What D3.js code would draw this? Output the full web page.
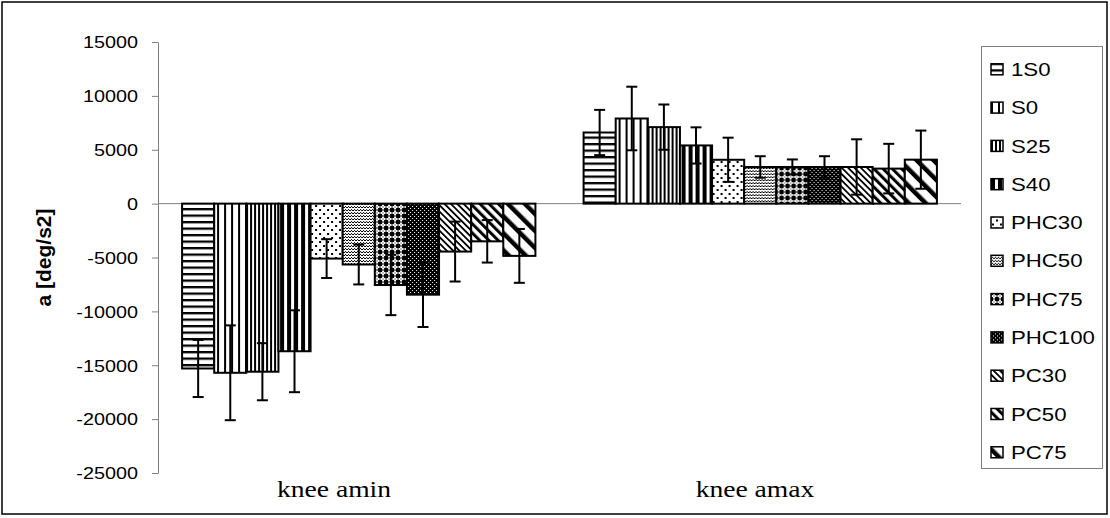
<!DOCTYPE html>
<html>
<head>
<meta charset="utf-8">
<script src="https://cdn.jsdelivr.net/npm/d3@7"></script>
<style>
  body { margin: 0; background: #fff; }
  svg { display: block; }
</style>
</head>
<body>
<div id="chart"></div>
<script>
// ---- data ----
const categories = ['knee amin', 'knee amax'];
const series = ['1S0', 'S0', 'S25', 'S40', 'PHC30', 'PHC50', 'PHC75', 'PHC100', 'PC30', 'PC50', 'PC75'];
const aminMean = [-15300, -15700, -15600, -13700, -5100, -5650, -7550, -8450, -4450, -3500, -4850];
const aminSd = [2650, 4400, 2650, 3800, 1800, 1850, 2800, 3000, 2780, 1970, 2500];
const amaxMean = [6600, 7900, 7100, 5400, 4070, 3400, 3400, 3400, 3400, 3250, 4080];
const amaxSd = [2100, 2950, 2100, 1680, 2050, 1000, 700, 1000, 2570, 2300, 2700];
const yTicks = [15000, 10000, 5000, 0, -5000, -10000, -15000, -20000, -25000];

const width = 1110;
const height = 518;
const plot = { left: 158, right: 961, top: 42, bottom: 473 };
const sx = 1.2; // reference text is stretched horizontally

const rows = categories.map((c, i) => ({
  cat: c,
  values: series.map((s, j) => ({
    cat: c,
    key: s,
    mean: i === 0 ? aminMean[j] : amaxMean[j],
    sd: i === 0 ? aminSd[j] : amaxSd[j]
  }))
}));

const svg = d3.select('#chart')
  .append('svg')
  .attr('width', width)
  .attr('height', height);

// ---- fill patterns ----
const defs = svg.append('defs');

function pattern(id, w, h, draw, transform) {
  const p = defs.append('pattern')
    .attr('id', id)
    .attr('patternUnits', 'userSpaceOnUse')
    .attr('width', w)
    .attr('height', h);
  if (transform) p.attr('patternTransform', transform);
  draw(p, w, h);
}
function rect(p, x, y, w, h, fill) {
  p.append('rect').attr('x', x).attr('y', y).attr('width', w).attr('height', h).attr('fill', fill);
}

pattern('p0', 8, 6.5, (p, w, h) => { rect(p, 0, 0, w, h, '#fff'); rect(p, 0, 0, w, 2.3, '#000'); });
pattern('p1', 7, 8, (p, w, h) => { rect(p, 0, 0, w, h, '#fff'); rect(p, 0, 0, 2, h, '#000'); });
pattern('p2', 4, 8, (p, w, h) => { rect(p, 0, 0, w, h, '#fff'); rect(p, 0, 0, 2, h, '#000'); });
pattern('p3', 7, 8, (p, w, h) => { rect(p, 0, 0, w, h, '#fff'); rect(p, 0, 0, 4, h, '#000'); });
pattern('p4', 8, 8, (p, w, h) => {
  rect(p, 0, 0, w, h, '#fff');
  rect(p, 1, 1, 2, 2, '#000');
  rect(p, 5, 5, 2, 2, '#000');
});
pattern('p5', 3, 3, (p, w, h) => {
  rect(p, 0, 0, w, h, '#fff');
  rect(p, 0, 0, 1, 1, '#000');
  rect(p, 2, 0, 1, 1, '#000');
  rect(p, 1, 2, 1, 1, '#000');
});
pattern('p6', 6, 6, (p, w, h) => {
  rect(p, 0, 0, w, h, '#000');
  rect(p, 2, 0.5, 2, 5, '#fff');
  rect(p, 0.5, 2, 5, 2, '#fff');
  rect(p, 2.5, 2.5, 1, 1, '#000');
});
pattern('p7', 4, 4, (p, w, h) => {
  rect(p, 0, 0, w, h, '#000');
  rect(p, 0, 0, 1, 1, '#fff');
  rect(p, 2, 2, 1, 1, '#fff');
});
pattern('p8', 4.5, 8, (p, w, h) => { rect(p, 0, 0, w, h, '#fff'); rect(p, 0, 0, 1.8, h, '#000'); }, 'rotate(-45)');
pattern('p9', 6.5, 8, (p, w, h) => { rect(p, 0, 0, w, h, '#fff'); rect(p, 0, 0, 3, h, '#000'); }, 'rotate(-45)');
pattern('p10', 12, 8, (p, w, h) => { rect(p, 0, 0, w, h, '#fff'); rect(p, 0, 0, 4.5, h, '#000'); }, 'rotate(-45)');

const fillOf = d3.scaleOrdinal()
  .domain(series)
  .range(series.map((s, i) => `url(#p${i})`));

// ---- scales ----
const x0 = d3.scaleBand()
  .domain(categories)
  .range([plot.left, plot.right])
  .paddingInner(0.12)
  .paddingOuter(0.06);

const x1 = d3.scaleBand()
  .domain(series)
  .range([0, x0.bandwidth()]);

const y = d3.scaleLinear()
  .domain([-25000, 15000])
  .range([plot.bottom, plot.top]);

// category labels sit a little off the band centres in the reference
const xLabel = d3.scalePoint()
  .domain(categories)
  .range([334, 755]);

// outer frame
svg.append('rect')
  .attr('x', 2)
  .attr('y', 2)
  .attr('width', width - 5)
  .attr('height', height - 6)
  .attr('fill', 'none')
  .attr('stroke', '#000')
  .attr('stroke-width', 1.5);

// zero line
svg.append('line')
  .attr('x1', plot.left)
  .attr('x2', plot.right)
  .attr('y1', y(0))
  .attr('y2', y(0))
  .attr('stroke', '#808080')
  .attr('stroke-width', 1);

// y axis
const yAxis = svg.append('g')
  .attr('transform', `translate(${plot.left},0)`)
  .call(d3.axisLeft(y).tickValues(yTicks).tickSize(6).tickSizeOuter(0).tickFormat(d => String(d)));
yAxis.select('.domain').attr('stroke', '#808080');
yAxis.selectAll('.tick line').attr('stroke', '#808080');
yAxis.selectAll('.tick text')
  .attr('x', -20 / sx)
  .attr('dy', '0.35em')
  .attr('transform', `scale(${sx},1)`)
  .style('font-family', '"Liberation Sans", Arial, sans-serif')
  .style('font-size', '16.5px')
  .attr('fill', '#000');

// y axis title
svg.append('text')
  .attr('transform', `translate(51,${(plot.top + plot.bottom) / 2}) rotate(-90)`)
  .attr('text-anchor', 'middle')
  .style('font-family', '"Liberation Sans", Arial, sans-serif')
  .style('font-weight', 'bold')
  .style('font-size', '21px')
  .text('a [deg/s2]');

// bars
const groups = svg.selectAll('.cat')
  .data(rows)
  .enter()
  .append('g')
  .attr('class', 'cat')
  .attr('transform', d => `translate(${x0(d.cat)},0)`);

groups.selectAll('.bar')
  .data(d => d.values)
  .enter()
  .append('rect')
  .attr('class', 'bar')
  .attr('x', d => x1(d.key))
  .attr('y', d => y(Math.max(0, d.mean)))
  .attr('width', x1.bandwidth())
  .attr('height', d => Math.abs(y(d.mean) - y(0)))
  .attr('fill', d => fillOf(d.key))
  .attr('stroke', '#000')
  .attr('stroke-width', 2);

// error bars
const err = groups.selectAll('.err')
  .data(d => d.values)
  .enter()
  .append('g')
  .attr('class', 'err')
  .attr('transform', d => `translate(${x1(d.key) + x1.bandwidth() / 2},0)`)
  .attr('stroke', '#000')
  .attr('stroke-width', 2);
err.append('line')
  .attr('y1', d => y(d.mean - d.sd))
  .attr('y2', d => y(d.mean + d.sd));
err.append('line')
  .attr('x1', -5.5).attr('x2', 5.5)
  .attr('y1', d => y(d.mean - d.sd))
  .attr('y2', d => y(d.mean - d.sd));
err.append('line')
  .attr('x1', -5.5).attr('x2', 5.5)
  .attr('y1', d => y(d.mean + d.sd))
  .attr('y2', d => y(d.mean + d.sd));

// category labels
svg.selectAll('.cat-label')
  .data(categories)
  .enter()
  .append('g')
  .attr('class', 'cat-label')
  .attr('transform', d => `translate(${xLabel(d)},497) scale(${sx},1)`)
  .append('text')
  .attr('text-anchor', 'middle')
  .style('font-family', '"Liberation Serif", "Times New Roman", serif')
  .style('font-size', '23px')
  .text(d => d);

// legend
const legend = svg.append('g').attr('class', 'legend');
legend.append('rect')
  .attr('x', 981.5)
  .attr('y', 46.5)
  .attr('width', 121)
  .attr('height', 422)
  .attr('fill', '#fff')
  .attr('stroke', '#808080')
  .attr('stroke-width', 1);

const items = legend.selectAll('.item')
  .data(series)
  .enter()
  .append('g')
  .attr('class', 'item')
  .attr('transform', (d, i) => `translate(991,${69.3 + i * 38.3})`);
items.append('rect')
  .attr('x', 0)
  .attr('y', -5.5)
  .attr('width', 12)
  .attr('height', 11)
  .attr('fill', d => fillOf(d))
  .attr('stroke', '#000')
  .attr('stroke-width', 1.5);
items.append('text')
  .attr('transform', `translate(20,0) scale(${sx},1)`)
  .attr('dy', '0.36em')
  .style('font-family', '"Liberation Sans", Arial, sans-serif')
  .style('font-size', '18.5px')
  .text(d => d);
</script>
</body>
</html>
